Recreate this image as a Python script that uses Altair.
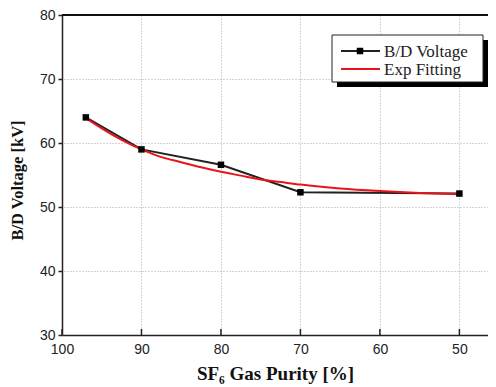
import altair as alt
import pandas as pd

# Measured breakdown voltage
purity = [97, 90, 80, 70, 50]
voltage = [64.0, 59.0, 56.6, 52.3, 52.1]

# Exponential fitting curve
fit_purity = [97, 95, 92.5, 90, 87.5, 85, 82.5, 80, 77.5, 75, 72.5, 70, 65, 60, 55, 50]
fit_voltage = [63.9, 62.3, 60.5, 59.0, 57.8, 57.0, 56.2, 55.5, 54.9, 54.3, 53.9, 53.5, 52.9, 52.5, 52.2, 52.0]

x_ticks = [100, 90, 80, 70, 60, 50]
y_ticks = [30, 40, 50, 60, 70, 80]

W, H = 426, 320

meas = pd.DataFrame({"purity": purity, "voltage": voltage})
fit = pd.DataFrame({"purity": fit_purity, "voltage": fit_voltage})
ticks = pd.DataFrame({"purity": x_ticks})

xscale = alt.Scale(domain=[46.4, 100], reverse=True, nice=False, zero=False)
yscale = alt.Scale(domain=[30, 80], nice=False, zero=False)

xaxis = alt.Axis(values=x_ticks, title="SF₆ Gas Purity [%]", tickSize=0,
                 labelFont="Liberation Sans", labelFontSize=14, labelColor="#222",
                 labelFlush=False, labelPadding=7,
                 titleFont="Liberation Serif", titleFontSize=19,
                 titleFontWeight="bold", titleColor="#111", titlePadding=8,
                 domainColor="#222", domainWidth=1.5,
                 grid=True, gridColor="#aaa", gridDash=[1, 2], gridWidth=1)
yaxis = alt.Axis(values=y_ticks, title="B/D Voltage [kV]", tickSize=4, tickColor="#222",
                 tickWidth=1.5, labelFlush=False,
                 labelFont="Liberation Sans", labelFontSize=14, labelColor="#222",
                 labelPadding=3, titleFont="Liberation Serif", titleFontSize=16.5,
                 titleFontWeight="bold", titleColor="#111",
                 titleX=-45, titleY=165, titleAlign="center", titleBaseline="middle",
                 titleAngle=270,
                 domainColor="#222", domainWidth=1.5,
                 grid=True, gridColor="#aaa", gridDash=[1, 2], gridWidth=1)

base_line = alt.Chart(meas).mark_line(color="#222", strokeWidth=2).encode(
    x=alt.X("purity:Q", scale=xscale, axis=xaxis),
    y=alt.Y("voltage:Q", scale=yscale, axis=yaxis),
)
fit_line = alt.Chart(fit).mark_line(color="#e8141b", strokeWidth=2, interpolate="monotone").encode(
    x=alt.X("purity:Q", scale=xscale),
    y=alt.Y("voltage:Q", scale=yscale),
)
pts = alt.Chart(meas).mark_square(color="#000", size=42, opacity=1).encode(
    x=alt.X("purity:Q", scale=xscale),
    y=alt.Y("voltage:Q", scale=yscale),
)
xticks = alt.Chart(ticks).mark_rule(color="#222", strokeWidth=1.5).encode(
    x=alt.X("purity:Q", scale=xscale),
    y=alt.value(H - 6), y2=alt.value(H),
)
top_border = alt.Chart(ticks).mark_rule(color="#111", strokeWidth=1.5).encode(
    x=alt.value(0), x2=alt.value(W), y=alt.value(0)
)

# Legend (drawn box with shadow)
leg = pd.DataFrame({"k": [0]})
shadow = alt.Chart(leg).mark_rect(color="#000").encode(
    x=alt.value(275), x2=alt.value(427), y=alt.value(25), y2=alt.value(72))
box = alt.Chart(leg).mark_rect(fill="white", stroke="#222", strokeWidth=1).encode(
    x=alt.value(270), x2=alt.value(421), y=alt.value(20), y2=alt.value(67))
l1 = alt.Chart(leg).mark_rule(color="#222", strokeWidth=2).encode(
    x=alt.value(279), x2=alt.value(318), y=alt.value(36))
l1p = alt.Chart(leg).mark_square(color="#000", size=42, opacity=1).encode(
    x=alt.value(298), y=alt.value(36))
l2 = alt.Chart(leg).mark_rule(color="#e8141b", strokeWidth=2).encode(
    x=alt.value(279), x2=alt.value(318), y=alt.value(54))
t1 = alt.Chart(leg).mark_text(align="left", baseline="middle", font="Liberation Serif",
                              fontSize=17, color="#222").encode(
    x=alt.value(322), y=alt.value(37), text=alt.value("B/D Voltage"))
t2 = alt.Chart(leg).mark_text(align="left", baseline="middle", font="Liberation Serif",
                              fontSize=17, color="#222").encode(
    x=alt.value(322), y=alt.value(55), text=alt.value("Exp Fitting"))

chart = alt.layer(
    base_line, fit_line, pts, xticks, top_border, shadow, box, l1, l1p, l2, t1, t2
).properties(
    width=W, height=H,
    autosize=alt.AutoSizeParams(type="none"),
    padding={"left": 54, "top": 7, "right": 0, "bottom": 50},
).configure_view(stroke=None)

chart.save("out.html", embed_options={"renderer": "svg", "actions": False})
